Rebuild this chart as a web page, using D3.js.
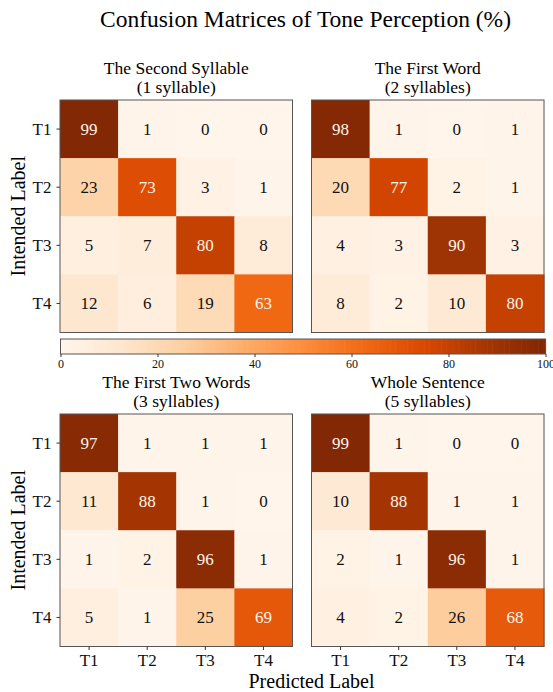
<!DOCTYPE html>
<html>
<head>
<meta charset="utf-8">
<script src="https://cdn.jsdelivr.net/npm/d3@7"></script>
<style>
  html, body { margin: 0; padding: 0; background: #fff; }
  svg { display: block; }
  svg text { font-family: "Liberation Serif", "DejaVu Serif", serif !important; }
</style>
</head>
<body>
<svg id="chart" width="553" height="692"></svg>
<script>
// ---- data ----
const tones = ["T1", "T2", "T3", "T4"];
const panelTitles = [
  ["The Second Syllable", "(1 syllable)"],
  ["The First Word", "(2 syllables)"],
  ["The First Two Words", "(3 syllables)"],
  ["Whole Sentence", "(5 syllables)"]
];
const secondSyllable = [[99, 1, 0, 0], [23, 73, 3, 1], [5, 7, 80, 8], [12, 6, 19, 63]];
const firstWord      = [[98, 1, 0, 1], [20, 77, 2, 1], [4, 3, 90, 3], [8, 2, 10, 80]];
const firstTwoWords  = [[97, 1, 1, 1], [11, 88, 1, 0], [1, 2, 96, 1], [5, 1, 25, 69]];
const wholeSentence  = [[99, 1, 0, 0], [10, 88, 1, 1], [2, 1, 96, 1], [4, 2, 26, 68]];
const matrices = [secondSyllable, firstWord, firstTwoWords, wholeSentence];
const colorbarTicks = [0, 20, 40, 60, 80, 100];

// ---- layout ----
const svg = d3.select("#chart");
const panelSize = 232.5;
const lefts = [60, 311.5];
const tops = [100, 414];

// matplotlib "Oranges" (linear segments through ColorBrewer 9 classes)
const oranges = d3.schemeOranges[9];
const color = d3.scaleLinear()
  .domain(d3.range(9).map(i => i * 100 / 8))
  .range(oranges)
  .interpolate(d3.interpolateRgb)
  .clamp(true);

svg.append("text")
  .attr("x", 305.5).attr("y", 27)
  .attr("text-anchor", "middle")
  .attr("font-size", 23.5)
  .text("Confusion Matrices of Tone Perception (%)");

matrices.forEach((m, k) => {
  const col = k % 2, row = Math.floor(k / 2);
  const x0 = lefts[col], y0 = tops[row];
  const x = d3.scaleBand().domain(tones).range([x0, x0 + panelSize]);
  const y = d3.scaleBand().domain(tones).range([y0, y0 + panelSize]);
  const g = svg.append("g");

  const cells = [];
  m.forEach((r, i) => r.forEach((v, j) => cells.push({ r: tones[i], c: tones[j], v })));

  g.selectAll("rect.cell").data(cells).join("rect")
    .attr("class", "cell")
    .attr("x", d => x(d.c)).attr("y", d => y(d.r))
    .attr("width", x.bandwidth() + 0.5).attr("height", y.bandwidth() + 0.5)
    .attr("fill", d => color(d.v));

  g.selectAll("text.val").data(cells).join("text")
    .attr("class", "val")
    .attr("x", d => x(d.c) + x.bandwidth() / 2)
    .attr("y", d => y(d.r) + y.bandwidth() / 2 + 6)
    .attr("text-anchor", "middle")
    .attr("font-size", 17)
    .attr("fill", d => d.v >= 50 ? "#fff5eb" : "#111")
    .text(d => d.v);

  g.append("rect")
    .attr("x", x0).attr("y", y0)
    .attr("width", panelSize).attr("height", panelSize)
    .attr("fill", "none").attr("stroke", "#555").attr("stroke-width", 1);

  // subplot titles
  g.append("text").attr("x", x0 + panelSize / 2).attr("y", y0 - 26)
    .attr("text-anchor", "middle").attr("font-size", 17.5).text(panelTitles[k][0]);
  g.append("text").attr("x", x0 + panelSize / 2).attr("y", y0 - 7)
    .attr("text-anchor", "middle").attr("font-size", 17.5).text(panelTitles[k][1]);

  if (col === 0) {
    const ya = g.append("g").attr("transform", `translate(${x0},0)`)
      .call(d3.axisLeft(y).tickSize(3.5).tickPadding(5));
    ya.select(".domain").remove();
    ya.selectAll("line").attr("stroke", "#333");
    ya.selectAll("text").attr("font-size", 17).attr("fill", "#111");
    g.append("text")
      .attr("transform", `translate(25,${y0 + panelSize / 2}) rotate(-90)`)
      .attr("text-anchor", "middle").attr("font-size", 20)
      .text("Intended Label");
  }
  if (row === 1) {
    const xa = g.append("g").attr("transform", `translate(0,${y0 + panelSize})`)
      .call(d3.axisBottom(x).tickSize(3.5).tickPadding(4));
    xa.select(".domain").remove();
    xa.selectAll("line").attr("stroke", "#333");
    xa.selectAll("text").attr("font-size", 17).attr("fill", "#111");
  }
});

svg.append("text")
  .attr("x", 311.5).attr("y", 688)
  .attr("text-anchor", "middle").attr("font-size", 20)
  .text("Predicted Label");

// ---- colorbar ----
const cbX = d3.scaleLinear().domain([0, 100]).range([60.5, 545.5]);
const cbY = 339, cbH = 15;
const steps = d3.range(0, 100, 0.5);
svg.append("g").selectAll("rect").data(steps).join("rect")
  .attr("x", d => cbX(d)).attr("y", cbY)
  .attr("width", cbX(0.5) - cbX(0) + 0.6).attr("height", cbH)
  .attr("fill", d => color(d + 0.25));
svg.append("rect")
  .attr("x", cbX(0)).attr("y", cbY).attr("width", cbX(100) - cbX(0)).attr("height", cbH)
  .attr("fill", "none").attr("stroke", "#555").attr("stroke-width", 1);
const cba = svg.append("g").attr("transform", `translate(0,${cbY + cbH})`)
  .call(d3.axisBottom(cbX).tickValues(colorbarTicks).tickSize(3).tickPadding(2).tickFormat(d3.format("d")));
cba.select(".domain").remove();
cba.selectAll("line").attr("stroke", "#333");
cba.selectAll("text").attr("font-size", 12).attr("fill", "#111");
</script>
</body>
</html>
